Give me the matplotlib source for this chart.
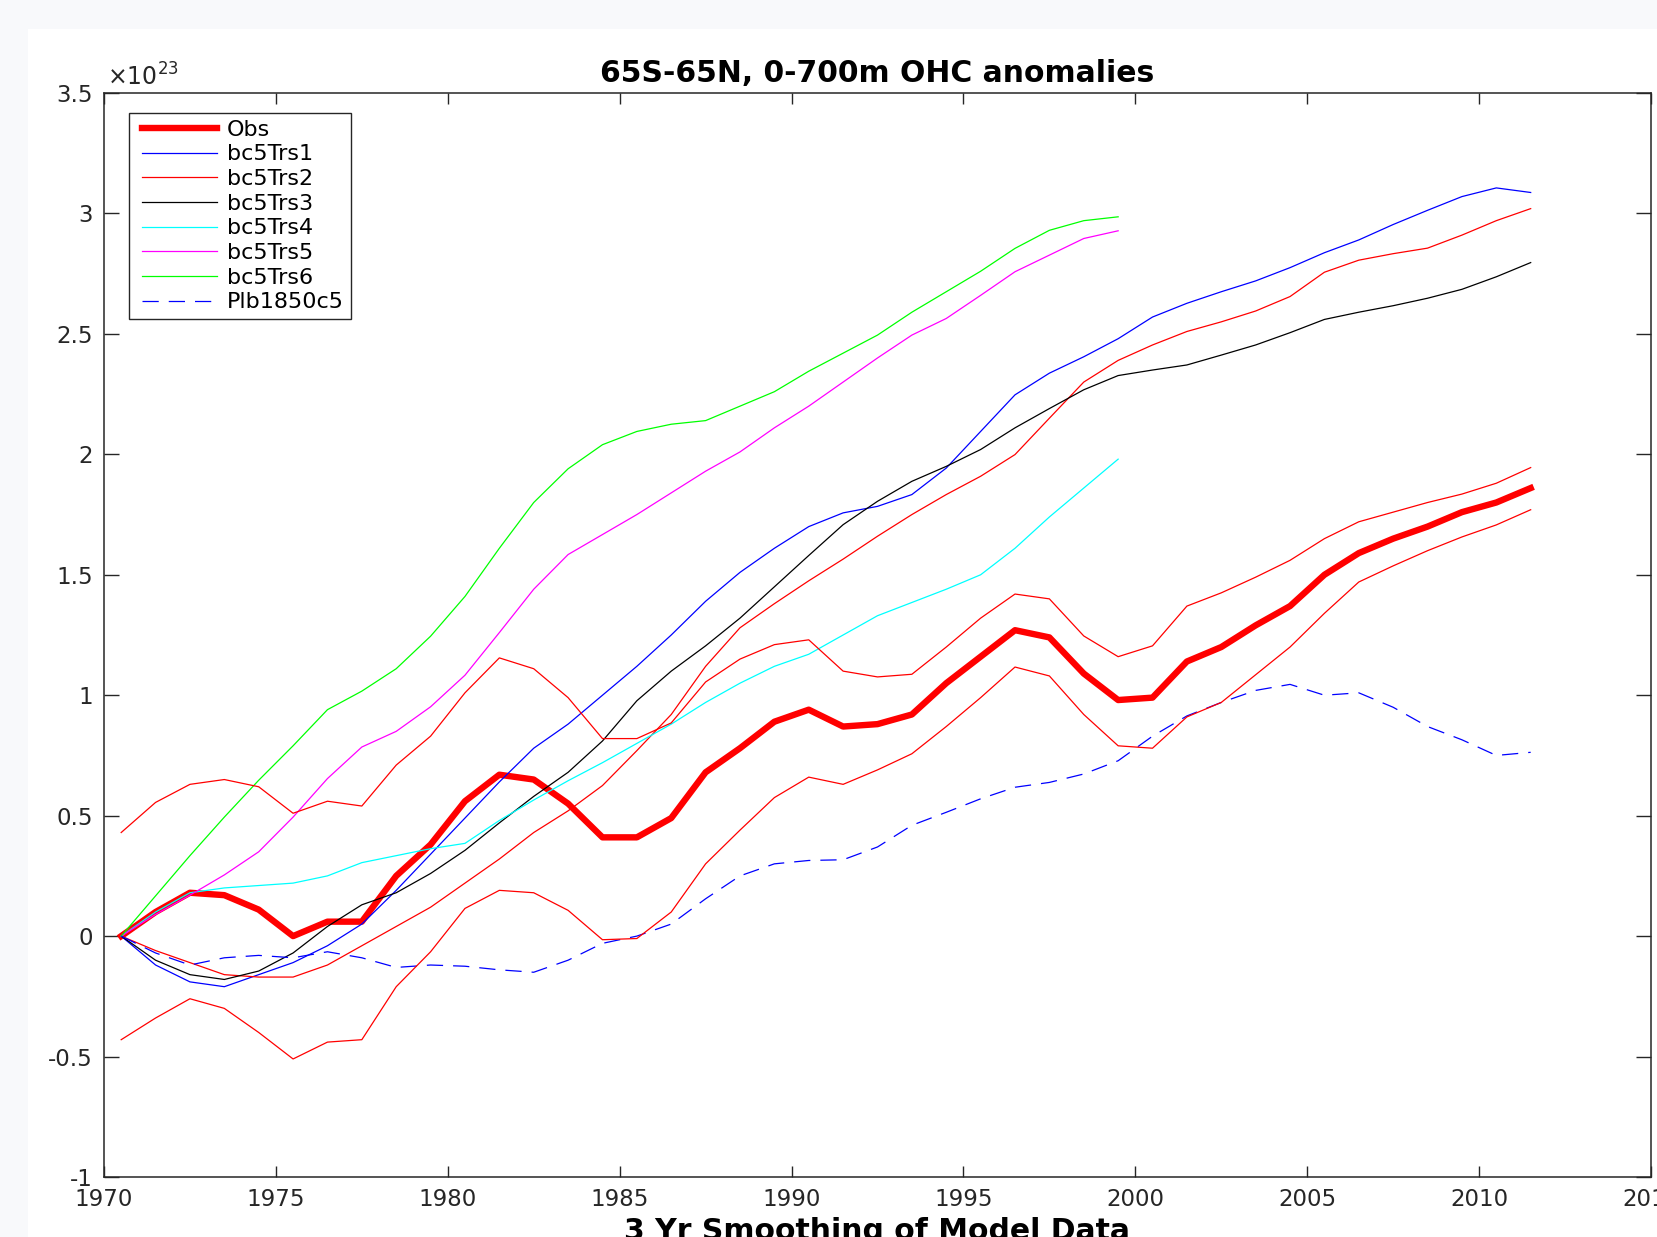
import numpy as np
import matplotlib
matplotlib.use('Agg')
import matplotlib.pyplot as plt
from matplotlib.patches import Rectangle
from matplotlib.ticker import FuncFormatter

# Annual values plotted at mid-year, OHC anomalies in units of 1e23 J
years = np.arange(1970.5, 2012.0, 1.0)      # 1970.5 .. 2011.5
years_short = years[:30]                    # bc5Trs4-6 stop at 1999.5

obs = [0.00, 0.10, 0.18, 0.17, 0.11, 0.00, 0.06, 0.06, 0.25, 0.38,
       0.56, 0.67, 0.65, 0.55, 0.41, 0.41, 0.49, 0.68, 0.78, 0.89,
       0.94, 0.87, 0.88, 0.92, 1.05, 1.16, 1.27, 1.24, 1.09, 0.98,
       0.99, 1.14, 1.20, 1.29, 1.37, 1.50, 1.59, 1.65, 1.70, 1.76,
       1.80, 1.86]
obs_hi = [0.43, 0.555, 0.63, 0.65, 0.62, 0.51, 0.56, 0.54, 0.71, 0.83,
          1.01, 1.155, 1.11, 0.99, 0.82, 0.82, 0.885, 1.055, 1.15, 1.21,
          1.23, 1.10, 1.076, 1.087, 1.20, 1.32, 1.42, 1.40, 1.246, 1.16,
          1.205, 1.37, 1.425, 1.49, 1.56, 1.65, 1.72, 1.76, 1.80, 1.835,
          1.88, 1.945]
obs_lo = [-0.43, -0.34, -0.26, -0.30, -0.40, -0.51, -0.44, -0.43, -0.21, -0.065,
          0.115, 0.19, 0.18, 0.107, -0.015, -0.01, 0.10, 0.30, 0.44, 0.575,
          0.66, 0.63, 0.69, 0.757, 0.87, 0.99, 1.117, 1.08, 0.92, 0.79,
          0.78, 0.91, 0.97, 1.085, 1.20, 1.34, 1.47, 1.537, 1.60, 1.657,
          1.707, 1.77]

bc5Trs1 = [0.00, -0.12, -0.19, -0.21, -0.16, -0.11, -0.04, 0.05, 0.19, 0.34,
           0.49, 0.64, 0.78, 0.88, 1.00, 1.12, 1.25, 1.39, 1.51, 1.61,
           1.70, 1.757, 1.784, 1.833, 1.943, 2.095, 2.247, 2.337, 2.405, 2.48,
           2.57, 2.627, 2.675, 2.72, 2.775, 2.837, 2.89, 2.954, 3.013, 3.07,
           3.106, 3.087]
bc5Trs2 = [0.00, -0.06, -0.11, -0.16, -0.17, -0.17, -0.12, -0.04, 0.04, 0.12,
           0.22, 0.32, 0.43, 0.52, 0.625, 0.77, 0.92, 1.12, 1.28, 1.38,
           1.475, 1.565, 1.66, 1.75, 1.833, 1.909, 1.999, 2.15, 2.30, 2.39,
           2.454, 2.51, 2.55, 2.595, 2.655, 2.756, 2.806, 2.833, 2.856, 2.91,
           2.97, 3.02]
bc5Trs3 = [0.00, -0.10, -0.16, -0.18, -0.145, -0.07, 0.04, 0.13, 0.18, 0.26,
           0.356, 0.47, 0.58, 0.68, 0.81, 0.977, 1.10, 1.205, 1.32, 1.45,
           1.58, 1.708, 1.805, 1.888, 1.95, 2.02, 2.11, 2.19, 2.268, 2.327,
           2.35, 2.371, 2.412, 2.454, 2.505, 2.56, 2.59, 2.617, 2.648, 2.685,
           2.737, 2.796]
bc5Trs4 = [0.00, 0.10, 0.18, 0.20, 0.21, 0.22, 0.25, 0.305, 0.334, 0.363,
           0.385, 0.48, 0.565, 0.645, 0.72, 0.80, 0.88, 0.97, 1.05, 1.12,
           1.17, 1.25, 1.33, 1.385, 1.44, 1.50, 1.61, 1.74, 1.86, 1.98]
bc5Trs5 = [0.00, 0.09, 0.17, 0.254, 0.35, 0.494, 0.654, 0.785, 0.85, 0.952,
           1.083, 1.26, 1.44, 1.584, 1.667, 1.75, 1.84, 1.93, 2.01, 2.11,
           2.20, 2.30, 2.40, 2.495, 2.564, 2.66, 2.758, 2.827, 2.896, 2.928]
bc5Trs6 = [0.00, 0.167, 0.334, 0.494, 0.647, 0.79, 0.94, 1.017, 1.11, 1.245,
           1.41, 1.61, 1.80, 1.94, 2.04, 2.095, 2.125, 2.14, 2.20, 2.26,
           2.345, 2.42, 2.495, 2.59, 2.675, 2.76, 2.855, 2.93, 2.97, 2.986]
plb1850c5 = [0.00, -0.07, -0.12, -0.09, -0.08, -0.09, -0.065, -0.09, -0.13, -0.12,
             -0.125, -0.14, -0.15, -0.10, -0.03, 0.00, 0.05, 0.155, 0.25, 0.30,
             0.314, 0.317, 0.37, 0.46, 0.514, 0.57, 0.618, 0.638, 0.673, 0.728,
             0.83, 0.914, 0.97, 1.02, 1.045, 1.00, 1.01, 0.95, 0.87, 0.815,
             0.75, 0.763]

xticks = np.arange(1970, 2016, 5)
yticks = np.arange(-1.0, 3.51, 0.5)

W, H = 1658, 1237
axcol = '#262626'

fig = plt.figure(figsize=(W / 100, H / 100), dpi=100)
fig.patch.set_facecolor('#f8f9fb')
fig.add_artist(Rectangle((28 / W, 0), 1, (H - 29) / H, transform=fig.transFigure,
                         facecolor='white', edgecolor='none', zorder=-1))

ax = fig.add_axes([104 / W, (H - 1177) / H, 1547 / W, 1084 / H])

# matlab style pure colours
thin = 0.9
h_obs, = ax.plot(years, obs, color='#ff0000', lw=4.6, label='Obs')
h1, = ax.plot(years, bc5Trs1, color='#0000ff', lw=thin, label='bc5Trs1')
h2, = ax.plot(years, bc5Trs2, color='#ff0000', lw=thin, label='bc5Trs2')
h3, = ax.plot(years, bc5Trs3, color='#000000', lw=thin, label='bc5Trs3')
h4, = ax.plot(years_short, bc5Trs4, color='#00ffff', lw=thin, label='bc5Trs4')
h5, = ax.plot(years_short, bc5Trs5, color='#ff00ff', lw=thin, label='bc5Trs5')
h6, = ax.plot(years_short, bc5Trs6, color='#00ff00', lw=thin, label='bc5Trs6')
hp, = ax.plot(years, plb1850c5, color='#0000ff', lw=thin, dashes=(13, 8),
              label='Plb1850c5')
ax.plot(years, obs_hi, color='#ff0000', lw=thin)
ax.plot(years, obs_lo, color='#ff0000', lw=thin)

ax.set_xlim(1970, 2015)
ax.set_ylim(-1, 3.5)
ax.set_xticks(xticks)
ax.set_yticks(yticks)
ax.yaxis.set_major_formatter(FuncFormatter(lambda v, p: '%g' % v))

for s in ax.spines.values():
    s.set_color(axcol)
    s.set_linewidth(1.1)
ax.tick_params(direction='in', top=True, right=True, colors=axcol, labelsize=16.5,
               width=1.0)
ax.tick_params(axis='x', length=8, pad=8)
ax.tick_params(axis='y', length=11, pad=8)

ax.text(0.002, 1 + 7 / 1084, r'$\times10^{23}$', transform=ax.transAxes,
        ha='left', va='baseline', fontsize=17, color=axcol)

ax.set_title('65S-65N, 0-700m OHC anomalies', fontsize=21.5, fontweight='bold',
             pad=8, color='k')
ax.set_xlabel('3 Yr Smoothing of Model Data', fontsize=21.5, fontweight='bold',
              color='k')
ax.xaxis.set_label_coords(0.5, -0.037)

leg = ax.legend(handles=[h_obs, h1, h2, h3, h4, h5, h6, hp], numpoints=2,
                loc='upper left', bbox_to_anchor=(25 / 1547, 1 - 20 / 1084),
                borderaxespad=0, fontsize=16, handlelength=3.97, handletextpad=0.15,
                labelspacing=0.21, borderpad=0.3, fancybox=False, framealpha=1)
leg.get_frame().set_edgecolor(axcol)
leg.get_frame().set_linewidth(1.0)

fig.savefig('out.png', dpi=100, facecolor=fig.get_facecolor())
